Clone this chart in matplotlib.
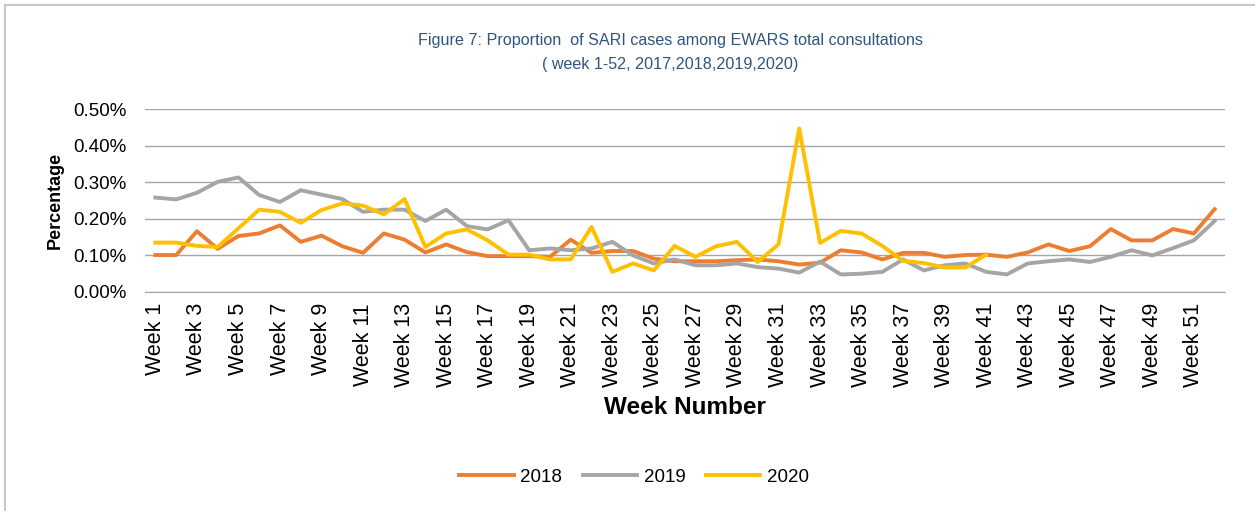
"""Figure 7 - proportion of SARI cases among EWARS total consultations, by week."""
import matplotlib
matplotlib.use("Agg")
import matplotlib.pyplot as plt
from matplotlib.patches import Rectangle
from matplotlib.ticker import FuncFormatter, FixedLocator

# Weekly proportions, in percent.
weeks = list(range(1, 53))
sari_2018 = [0.101, 0.101, 0.166, 0.118, 0.153, 0.160, 0.182, 0.137, 0.154, 0.125,
             0.107, 0.160, 0.143, 0.108, 0.130, 0.109, 0.098, 0.098, 0.098, 0.096,
             0.143, 0.107, 0.112, 0.112, 0.091, 0.084, 0.084, 0.084, 0.087, 0.089,
             0.084, 0.075, 0.080, 0.114, 0.108, 0.089, 0.107, 0.107, 0.096, 0.101,
             0.102, 0.096, 0.108, 0.130, 0.112, 0.125, 0.172, 0.141, 0.141, 0.172,
             0.160, 0.226]
sari_2019 = [0.258, 0.253, 0.271, 0.301, 0.313, 0.265, 0.246, 0.278, 0.266, 0.254,
             0.219, 0.225, 0.225, 0.194, 0.225, 0.180, 0.171, 0.196, 0.114, 0.119,
             0.114, 0.119, 0.137, 0.100, 0.078, 0.089, 0.073, 0.073, 0.078, 0.068,
             0.064, 0.053, 0.083, 0.048, 0.050, 0.055, 0.089, 0.059, 0.073, 0.078,
             0.055, 0.048, 0.078, 0.084, 0.089, 0.082, 0.096, 0.114, 0.100, 0.120,
             0.141, 0.194]
sari_2020 = [0.135, 0.135, 0.126, 0.123, 0.174, 0.225, 0.219, 0.189, 0.224, 0.242,
             0.236, 0.212, 0.254, 0.123, 0.160, 0.171, 0.141, 0.102, 0.102, 0.089,
             0.089, 0.178, 0.055, 0.078, 0.059, 0.126, 0.096, 0.125, 0.137, 0.082,
             0.130, 0.447, 0.134, 0.167, 0.160, 0.126, 0.085, 0.079, 0.067, 0.067,
             0.102]

series = [("2018", sari_2018, "#ED7D31"),
          ("2019", sari_2019, "#A5A5A5"),
          ("2020", sari_2020, "#FFC000")]
y_ticks = [0.0, 0.1, 0.2, 0.3, 0.4, 0.5]
tick_weeks = weeks[::2]

plt.rcParams["font.family"] = ["Liberation Sans", "DejaVu Sans"]

fig = plt.figure(figsize=(12.55, 5.11), dpi=100)
fig.patches.append(Rectangle((0.004, -0.01), 1.01, 1.0, transform=fig.transFigure,
                             fill=False, edgecolor="#C8C8C8", lw=1.5))

ax = fig.add_axes([145 / 1255, 1 - 292 / 511, 1080 / 1255, 183 / 511])
for label, vals, color in series:
    ax.plot(weeks[:len(vals)], vals, color=color, lw=2.8, label=label,
            solid_joinstyle="round", zorder=3)

ax.set_xlim(0.5, 52.5)
ax.set_ylim(0, 0.5)
ax.yaxis.set_major_locator(FixedLocator(y_ticks))
ax.yaxis.set_major_formatter(FuncFormatter(lambda v, _: f"{v:.2f}%"))
ax.set_xticks(tick_weeks, [f"Week {w}" for w in tick_weeks], rotation=90, fontsize=15.5)
ax.tick_params(axis="y", labelsize=13.5, length=0, pad=13)
ax.tick_params(axis="x", length=0, pad=8)
ax.grid(axis="y", color="#A6A6A6", lw=1)
for s in ("top", "right", "left"):
    ax.spines[s].set_visible(False)
ax.spines["bottom"].set_color("#A6A6A6")

ax.set_ylabel("Percentage", fontsize=13, fontweight="bold", labelpad=7)
ax.set_xlabel("Week Number", fontsize=17.5, fontweight="bold", labelpad=6)

fig.text(0.534, 1 - 40 / 511, "Figure 7: Proportion  of SARI cases among EWARS total consultations",
         ha="center", va="center", fontsize=11.6, color="#2E5580")
fig.text(0.534, 1 - 65 / 511, "( week 1-52, 2017,2018,2019,2020)",
         ha="center", va="center", fontsize=11.6, color="#2E5580")

fig.legend(loc="center", bbox_to_anchor=(634 / 1255, 1 - 477 / 511), ncol=3,
           frameon=False, fontsize=13.5, handlelength=2.9, columnspacing=1.1,
           handletextpad=0.35)

fig.savefig("out.png", dpi=100)
